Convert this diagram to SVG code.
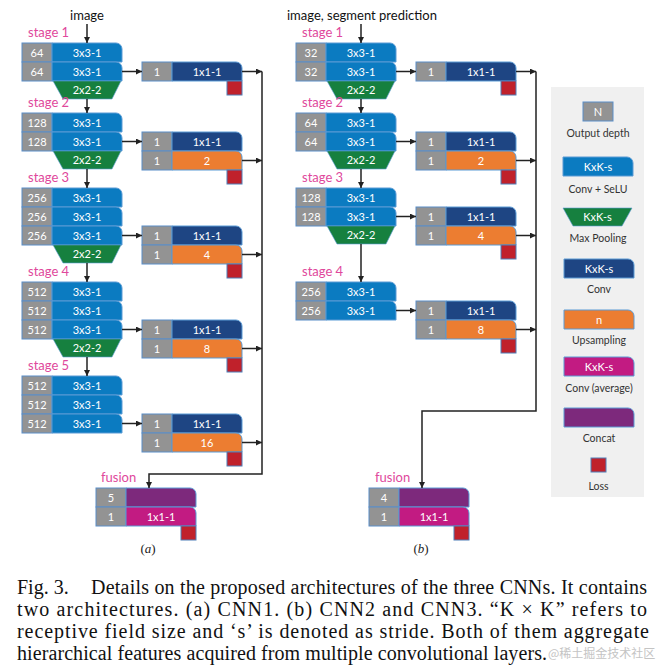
<svg xmlns="http://www.w3.org/2000/svg" xmlns:xlink="http://www.w3.org/1999/xlink" width="662" height="665" viewBox="0 0 662 665">
<style>
.g{fill:#939393;stroke:#5a8ec8;stroke-width:1}
.b{fill:#0b7bc1;stroke:#5b9bd5;stroke-width:1}
.gr{fill:#16803f;stroke:#5b9bd5;stroke-width:0.6}
.db{fill:#1e4583;stroke:#5b9bd5;stroke-width:1}
.o{fill:#ec7d31;stroke:#5b9bd5;stroke-width:1}
.m{fill:#c21b82;stroke:#5b9bd5;stroke-width:1}
.p{fill:#7d297c;stroke:#5b9bd5;stroke-width:1}
.r{fill:#c0212b;stroke:#4f7fb8;stroke-width:1}
text{font-family:Lato,"Liberation Sans",sans-serif}
.n{fill:#fff;font-size:11px;text-anchor:middle}
.stg{fill:#e0489c;font-size:13px}
.hd{fill:#111;font-size:13px}
.lg{fill:#333;font-size:10.5px;text-anchor:middle}
.sub{font-family:"Liberation Serif",serif;font-size:13px;fill:#222;text-anchor:middle}
.cap{font-family:"Liberation Serif",serif;font-size:20px;fill:#111}
.wm{font-family:"Noto Sans CJK SC",sans-serif;font-size:12px;fill:#c4c4c4}
.c{fill:none;stroke:#222;stroke-width:1.5}
.ca{fill:none;stroke:#222;stroke-width:1.5;marker-end:url(#ah)}
</style>
<defs>
<marker id="ah" viewBox="0 0 6 6" refX="6" refY="3" markerWidth="6" markerHeight="6" markerUnits="userSpaceOnUse" orient="auto"><path d="M0,0 L6,3 L0,6 Z" fill="#222"/></marker>
<rect id="gb" width="30" height="19" class="g"/>
<path id="tab" d="M0,0 H64 A6,6 0 0 1 70,6 V19 H0 Z"/>
<path id="pool" d="M0,0 H68 L59,18 H10 Z"/>
<rect id="loss" width="15" height="14" class="r"/>
</defs>
<rect width="662" height="665" fill="#fff"/>

<!-- ============ (a) ============ -->
<text class="hd" x="87" y="20" text-anchor="middle">image</text>
<g id="a-stage1">
<text class="stg" x="28" y="37">stage 1</text>
<use href="#gb" x="22" y="43"/><use href="#tab" class="b" x="52" y="43"/>
<use href="#gb" x="22" y="62"/><use href="#tab" class="b" x="52" y="62"/>
<use href="#pool" class="gr" x="53" y="81"/>
<text class="n" x="37" y="56.5">64</text><text class="n" x="87" y="56.5">3x3-1</text>
<text class="n" x="37" y="75.5">64</text><text class="n" x="87" y="75.5">3x3-1</text>
<text class="n" x="87" y="94">2x2-2</text>
</g>
<g id="a-stage2">
<text class="stg" x="28" y="107">stage 2</text>
<use href="#gb" x="22" y="113"/><use href="#tab" class="b" x="52" y="113"/>
<use href="#gb" x="22" y="132"/><use href="#tab" class="b" x="52" y="132"/>
<use href="#pool" class="gr" x="53" y="151"/>
<text class="n" x="37" y="126.5">128</text><text class="n" x="87" y="126.5">3x3-1</text>
<text class="n" x="37" y="145.5">128</text><text class="n" x="87" y="145.5">3x3-1</text>
<text class="n" x="87" y="164">2x2-2</text>
</g>
<g id="a-stage3">
<text class="stg" x="28" y="182">stage 3</text>
<use href="#gb" x="22" y="188"/><use href="#tab" class="b" x="52" y="188"/>
<use href="#gb" x="22" y="207"/><use href="#tab" class="b" x="52" y="207"/>
<use href="#gb" x="22" y="226"/><use href="#tab" class="b" x="52" y="226"/>
<use href="#pool" class="gr" x="53" y="245"/>
<text class="n" x="37" y="201.5">256</text><text class="n" x="87" y="201.5">3x3-1</text>
<text class="n" x="37" y="220.5">256</text><text class="n" x="87" y="220.5">3x3-1</text>
<text class="n" x="37" y="239.5">256</text><text class="n" x="87" y="239.5">3x3-1</text>
<text class="n" x="87" y="258">2x2-2</text>
</g>
<g id="a-stage4">
<text class="stg" x="28" y="276">stage 4</text>
<use href="#gb" x="22" y="282"/><use href="#tab" class="b" x="52" y="282"/>
<use href="#gb" x="22" y="301"/><use href="#tab" class="b" x="52" y="301"/>
<use href="#gb" x="22" y="320"/><use href="#tab" class="b" x="52" y="320"/>
<use href="#pool" class="gr" x="53" y="339"/>
<text class="n" x="37" y="295.5">512</text><text class="n" x="87" y="295.5">3x3-1</text>
<text class="n" x="37" y="314.5">512</text><text class="n" x="87" y="314.5">3x3-1</text>
<text class="n" x="37" y="333.5">512</text><text class="n" x="87" y="333.5">3x3-1</text>
<text class="n" x="87" y="352">2x2-2</text>
</g>
<g id="a-stage5">
<text class="stg" x="28" y="370">stage 5</text>
<use href="#gb" x="22" y="376"/><use href="#tab" class="b" x="52" y="376"/>
<use href="#gb" x="22" y="395"/><use href="#tab" class="b" x="52" y="395"/>
<use href="#gb" x="22" y="414"/><use href="#tab" class="b" x="52" y="414"/>
<text class="n" x="37" y="389.5">512</text><text class="n" x="87" y="389.5">3x3-1</text>
<text class="n" x="37" y="408.5">512</text><text class="n" x="87" y="408.5">3x3-1</text>
<text class="n" x="37" y="427.5">512</text><text class="n" x="87" y="427.5">3x3-1</text>
</g>
<g id="a-side1">
<use href="#gb" x="142" y="62"/><use href="#tab" class="db" x="172" y="62"/><use href="#loss" x="227" y="81"/>
<text class="n" x="157" y="75.5">1</text><text class="n" x="207" y="75.5">1x1-1</text>
</g>
<g id="a-side2">
<use href="#gb" x="142" y="132"/><use href="#tab" class="db" x="172" y="132"/>
<use href="#gb" x="142" y="151"/><use href="#tab" class="o" x="172" y="151"/><use href="#loss" x="227" y="170"/>
<text class="n" x="157" y="145.5">1</text><text class="n" x="207" y="145.5">1x1-1</text>
<text class="n" x="157" y="164.5">1</text><text class="n" x="207" y="164.5">2</text>
</g>
<g id="a-side3">
<use href="#gb" x="142" y="226"/><use href="#tab" class="db" x="172" y="226"/>
<use href="#gb" x="142" y="245"/><use href="#tab" class="o" x="172" y="245"/><use href="#loss" x="227" y="264"/>
<text class="n" x="157" y="239.5">1</text><text class="n" x="207" y="239.5">1x1-1</text>
<text class="n" x="157" y="258.5">1</text><text class="n" x="207" y="258.5">4</text>
</g>
<g id="a-side4">
<use href="#gb" x="142" y="320"/><use href="#tab" class="db" x="172" y="320"/>
<use href="#gb" x="142" y="339"/><use href="#tab" class="o" x="172" y="339"/><use href="#loss" x="227" y="358"/>
<text class="n" x="157" y="333.5">1</text><text class="n" x="207" y="333.5">1x1-1</text>
<text class="n" x="157" y="352.5">1</text><text class="n" x="207" y="352.5">8</text>
</g>
<g id="a-side5">
<use href="#gb" x="142" y="414"/><use href="#tab" class="db" x="172" y="414"/>
<use href="#gb" x="142" y="433"/><use href="#tab" class="o" x="172" y="433"/><use href="#loss" x="227" y="452"/>
<text class="n" x="157" y="427.5">1</text><text class="n" x="207" y="427.5">1x1-1</text>
<text class="n" x="157" y="446.5">1</text><text class="n" x="207" y="446.5">16</text>
</g>
<g id="a-fusion">
<text class="stg" x="101" y="482">fusion</text>
<use href="#gb" x="96" y="488"/><use href="#tab" class="p" x="126" y="488"/>
<use href="#gb" x="96" y="507"/><use href="#tab" class="m" x="126" y="507"/><use href="#loss" x="181" y="526"/>
<text class="n" x="111" y="501.5">5</text>
<text class="n" x="111" y="520.5">1</text><text class="n" x="161" y="520.5">1x1-1</text>
</g>
<text class="sub" x="148" y="553">(<tspan font-style="italic">a</tspan>)</text>

<!-- ============ (b) ============ -->
<text class="hd" x="287" y="20">image, segment prediction</text>
<g id="b-stage1">
<text class="stg" x="302" y="37">stage 1</text>
<use href="#gb" x="296" y="43"/><use href="#tab" class="b" x="326" y="43"/>
<use href="#gb" x="296" y="62"/><use href="#tab" class="b" x="326" y="62"/>
<use href="#pool" class="gr" x="327" y="81"/>
<text class="n" x="311" y="56.5">32</text><text class="n" x="361" y="56.5">3x3-1</text>
<text class="n" x="311" y="75.5">32</text><text class="n" x="361" y="75.5">3x3-1</text>
<text class="n" x="361" y="94">2x2-2</text>
</g>
<g id="b-stage2">
<text class="stg" x="302" y="107">stage 2</text>
<use href="#gb" x="296" y="113"/><use href="#tab" class="b" x="326" y="113"/>
<use href="#gb" x="296" y="132"/><use href="#tab" class="b" x="326" y="132"/>
<use href="#pool" class="gr" x="327" y="151"/>
<text class="n" x="311" y="126.5">64</text><text class="n" x="361" y="126.5">3x3-1</text>
<text class="n" x="311" y="145.5">64</text><text class="n" x="361" y="145.5">3x3-1</text>
<text class="n" x="361" y="164">2x2-2</text>
</g>
<g id="b-stage3">
<text class="stg" x="302" y="182">stage 3</text>
<use href="#gb" x="296" y="188"/><use href="#tab" class="b" x="326" y="188"/>
<use href="#gb" x="296" y="207"/><use href="#tab" class="b" x="326" y="207"/>
<use href="#pool" class="gr" x="327" y="226"/>
<text class="n" x="311" y="201.5">128</text><text class="n" x="361" y="201.5">3x3-1</text>
<text class="n" x="311" y="220.5">128</text><text class="n" x="361" y="220.5">3x3-1</text>
<text class="n" x="361" y="239">2x2-2</text>
</g>
<g id="b-stage4">
<text class="stg" x="302" y="276">stage 4</text>
<use href="#gb" x="296" y="282"/><use href="#tab" class="b" x="326" y="282"/>
<use href="#gb" x="296" y="301"/><use href="#tab" class="b" x="326" y="301"/>
<text class="n" x="311" y="295.5">256</text><text class="n" x="361" y="295.5">3x3-1</text>
<text class="n" x="311" y="314.5">256</text><text class="n" x="361" y="314.5">3x3-1</text>
</g>
<g id="b-side1">
<use href="#gb" x="416" y="62"/><use href="#tab" class="db" x="446" y="62"/><use href="#loss" x="501" y="81"/>
<text class="n" x="431" y="75.5">1</text><text class="n" x="481" y="75.5">1x1-1</text>
</g>
<g id="b-side2">
<use href="#gb" x="416" y="132"/><use href="#tab" class="db" x="446" y="132"/>
<use href="#gb" x="416" y="151"/><use href="#tab" class="o" x="446" y="151"/><use href="#loss" x="501" y="170"/>
<text class="n" x="431" y="145.5">1</text><text class="n" x="481" y="145.5">1x1-1</text>
<text class="n" x="431" y="164.5">1</text><text class="n" x="481" y="164.5">2</text>
</g>
<g id="b-side3">
<use href="#gb" x="416" y="207"/><use href="#tab" class="db" x="446" y="207"/>
<use href="#gb" x="416" y="226"/><use href="#tab" class="o" x="446" y="226"/><use href="#loss" x="501" y="245"/>
<text class="n" x="431" y="220.5">1</text><text class="n" x="481" y="220.5">1x1-1</text>
<text class="n" x="431" y="239.5">1</text><text class="n" x="481" y="239.5">4</text>
</g>
<g id="b-side4">
<use href="#gb" x="416" y="301"/><use href="#tab" class="db" x="446" y="301"/>
<use href="#gb" x="416" y="320"/><use href="#tab" class="o" x="446" y="320"/><use href="#loss" x="501" y="339"/>
<text class="n" x="431" y="314.5">1</text><text class="n" x="481" y="314.5">1x1-1</text>
<text class="n" x="431" y="333.5">1</text><text class="n" x="481" y="333.5">8</text>
</g>
<g id="b-fusion">
<text class="stg" x="375" y="482">fusion</text>
<use href="#gb" x="369" y="488"/><use href="#tab" class="p" x="399" y="488"/>
<use href="#gb" x="369" y="507"/><use href="#tab" class="m" x="399" y="507"/><use href="#loss" x="454" y="526"/>
<text class="n" x="384" y="501.5">4</text>
<text class="n" x="384" y="520.5">1</text><text class="n" x="434" y="520.5">1x1-1</text>
</g>
<text class="sub" x="421" y="553">(<tspan font-style="italic">b</tspan>)</text>

<!-- ============ connectors ============ -->
<g id="connectors">
<path class="ca" d="M87,24 V43"/>
<path class="ca" d="M87,99 V113"/>
<path class="ca" d="M87,169 V188"/>
<path class="ca" d="M87,263 V282"/>
<path class="ca" d="M87,357 V376"/>
<path class="ca" d="M122,71.5 H142"/>
<path class="ca" d="M122,141.5 H142"/>
<path class="ca" d="M122,235.5 H142"/>
<path class="ca" d="M122,329.5 H142"/>
<path class="ca" d="M122,423.5 H142"/>
<path class="ca" d="M242,71.5 H262"/>
<path class="ca" d="M242,160.5 H262"/>
<path class="ca" d="M242,254.5 H262"/>
<path class="ca" d="M242,348.5 H262"/>
<path class="ca" d="M242,442.5 H262"/>
<path class="ca" d="M262,71.5 V474 H149 V488"/>

<path class="ca" d="M361,24 V43"/>
<path class="ca" d="M361,99 V113"/>
<path class="ca" d="M361,169 V188"/>
<path class="ca" d="M361,244 V282"/>
<path class="ca" d="M396,71.5 H416"/>
<path class="ca" d="M396,141.5 H416"/>
<path class="ca" d="M396,216.5 H416"/>
<path class="ca" d="M396,310.5 H416"/>
<path class="ca" d="M516,71.5 H536"/>
<path class="ca" d="M516,160.5 H536"/>
<path class="ca" d="M516,235.5 H536"/>
<path class="ca" d="M516,329.5 H536"/>
<path class="ca" d="M536,71.5 V411 H422 V488"/>
</g>

<!-- ============ legend ============ -->
<g id="legend">
<rect x="551" y="87" width="93" height="410" fill="#f0f0f0"/>
<rect x="583" y="102" width="30" height="19" class="g"/>
<text class="n" x="598" y="115.5">N</text>
<text class="lg" x="598" y="137">Output depth</text>
<use href="#tab" class="b" x="563" y="157"/>
<text class="n" x="598" y="170.5">KxK-s</text>
<text class="lg" x="598" y="193">Conv + SeLU</text>
<path d="M563,208 H632 L622,226 H573 Z" class="gr"/>
<text class="n" x="597.5" y="221">KxK-s</text>
<text class="lg" x="598" y="242">Max Pooling</text>
<use href="#tab" class="db" x="564" y="259"/>
<text class="n" x="599" y="272.5">KxK-s</text>
<text class="lg" x="599" y="293">Conv</text>
<use href="#tab" class="o" x="564" y="310"/>
<text class="n" x="599" y="323.5">n</text>
<text class="lg" x="599" y="344">Upsampling</text>
<use href="#tab" class="m" x="564" y="357"/>
<text class="n" x="599" y="370.5">KxK-s</text>
<text class="lg" x="599" y="392">Conv (average)</text>
<use href="#tab" class="p" x="564" y="408"/>
<text class="lg" x="599" y="442">Concat</text>
<rect x="591" y="458" width="15" height="14" class="r"/>
<text class="lg" x="598.5" y="490">Loss</text>
</g>

<!-- ============ caption ============ -->
<text class="cap" x="17" y="594">Fig. 3.</text>
<text class="cap" x="91" y="594" textLength="556" lengthAdjust="spacing">Details on the proposed architectures of the three CNNs. It contains</text>
<text class="cap" x="17" y="616" textLength="630" lengthAdjust="spacing">two architectures. (a) CNN1. (b) CNN2 and CNN3. “K × K” refers to</text>
<text class="cap" x="17" y="638" textLength="632" lengthAdjust="spacing">receptive field size and ‘s’ is denoted as stride. Both of them aggregate</text>
<text class="cap" x="17" y="660" textLength="530" lengthAdjust="spacing">hierarchical features acquired from multiple convolutional layers.</text>
<text class="wm" x="548" y="658">@稀土掘金技术社区</text>
</svg>
